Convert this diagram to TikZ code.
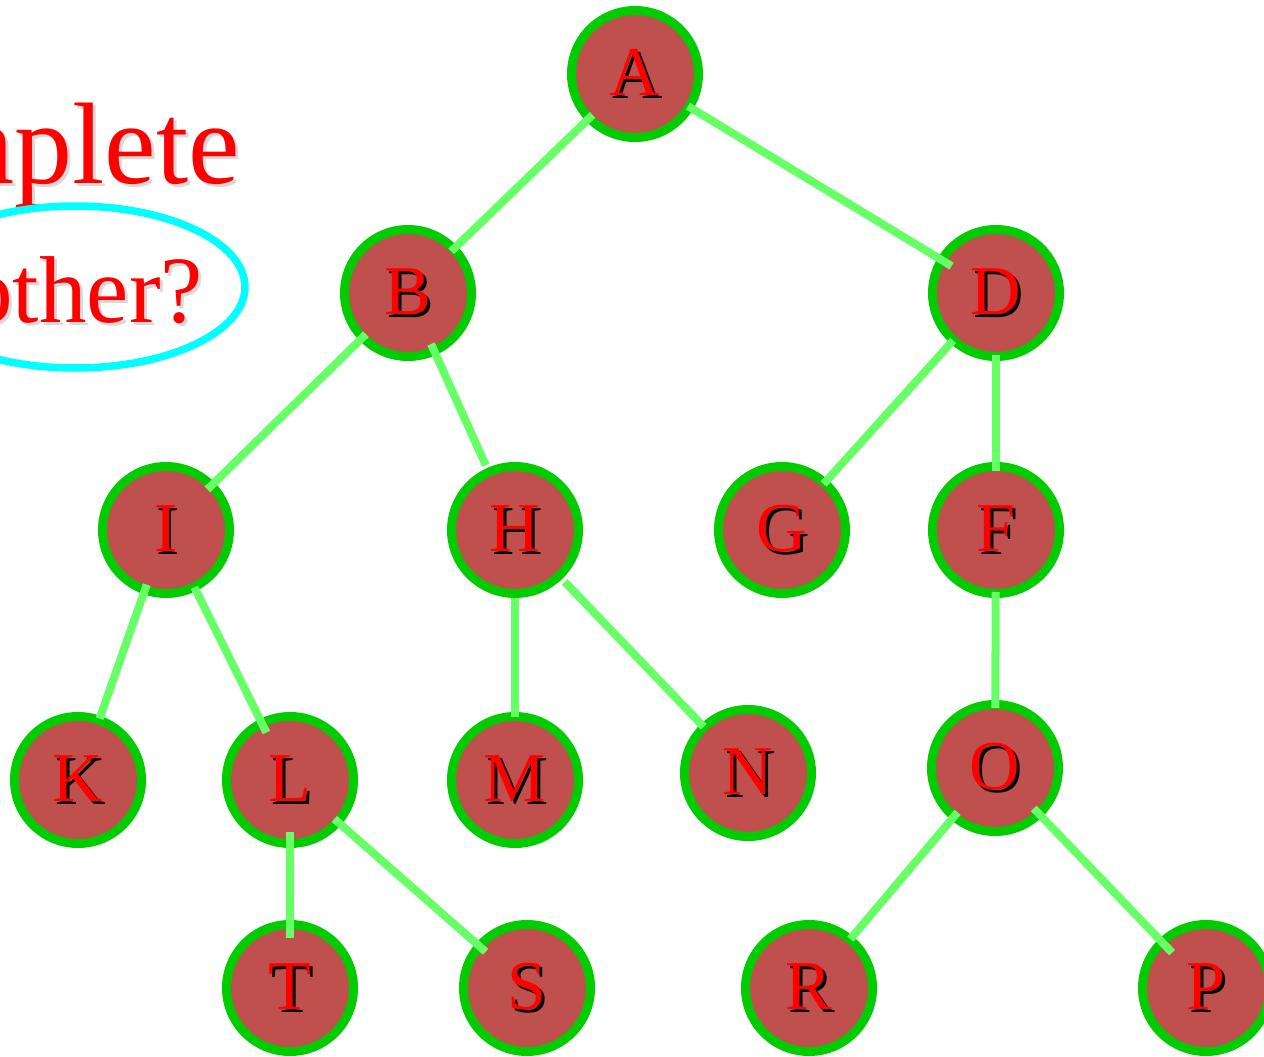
\documentclass[tikz,border=0pt]{standalone}
\usepackage{fontspec}
\setmainfont{Liberation Serif}
\definecolor{nodefill}{HTML}{C0504D}
\definecolor{nodeborder}{HTML}{00CC00}
\definecolor{edgegreen}{HTML}{66FF66}
\definecolor{textred}{HTML}{FF0000}
\definecolor{ringcyan}{HTML}{00FFFF}
\definecolor{ttlshade}{HTML}{D9D9D9}
\newcommand\shd[1]{\rlap{\kern2.5pt\raisebox{-2.5pt}{\color{black}#1}}#1}
\newcommand\ttlshd[1]{\rlap{\kern3pt\raisebox{-3pt}{\color{ttlshade}#1}}#1}
\begin{document}
\begin{tikzpicture}[x=1pt,y=-1pt,
  tnode/.style={circle, draw=nodeborder, fill=nodefill, line width=9pt,
    minimum size=127pt, inner sep=0pt, text=textred,
    font=\fontsize{70}{70}\selectfont},
  edge/.style={draw=edgegreen, line width=8pt, line cap=butt},
  ttl/.style={inner sep=0pt, anchor=base east, text=textred}]
\useasboundingbox (0,0) rectangle (1264,1057);
\clip (0,0) rectangle (1264,1057);

% title fragments (cut by the left edge)
\node[ttl, font=\fontsize{116}{116}\selectfont] (t1) at (240,183) {\ttlshd{complete}};
\node[ttl, font=\fontsize{95}{95}\selectfont] (t2) at (203,322) {\ttlshd{another?}};
\draw[ringcyan, line width=7.5pt] (75,287) ellipse [x radius=170, y radius=81];

% nodes
\node[tnode] (A) at (635,74) {\shd{A}};
\node[tnode] (B) at (408,293) {\shd{B}};
\node[tnode] (D) at (996,293) {\shd{D}};
\node[tnode] (I) at (166,530) {\shd{I}};
\node[tnode] (H) at (515,530) {\shd{H}};
\node[tnode] (G) at (782,530) {\shd{G}};
\node[tnode] (F) at (996,530) {\shd{F}};
\node[tnode] (K) at (78,780) {\shd{K}};
\node[tnode] (L) at (290,780) {\shd{L}};
\node[tnode] (M) at (515,780) {\shd{M}};
\node[tnode] (N) at (748,773) {\shd{N}};
\node[tnode] (O) at (995,768) {\shd{O}};
\node[tnode] (T) at (290,988) {\shd{T}};
\node[tnode] (S) at (527,988) {\shd{S}};
\node[tnode] (R) at (809,988) {\shd{R}};
\node[tnode] (P) at (1206,988) {\shd{P}};

% edges
\draw[edge, shorten <=59pt, shorten >=60pt] (A.center) -- (B.center);
\draw[edge, shorten <=62pt, shorten >=52pt] (A.center) -- (D.center);
\draw[edge, shorten <=59pt, shorten >=58pt] (B.center) -- (I.center);
\draw[edge, shorten <=56pt, shorten >=71pt] (B.center) -- (H.center);
\draw[edge, shorten <=64pt, shorten >=62pt] (D.center) -- (G.center);
\draw[edge, shorten <=62pt, shorten >=59pt] (D.center) -- (F.center);
\draw[edge, shorten <=58pt, shorten >=65pt] (I.center) -- (K.center);
\draw[edge, shorten <=64pt, shorten >=53pt] (I.center) -- (L.center);
\draw[edge, shorten <=68pt, shorten >=63pt] (H.center) -- (M.center);
\draw[edge, shorten <=72pt, shorten >=64pt] (H.center) -- (N.center);
\draw[edge, shorten <=62pt, shorten >=60pt] (F.center) -- (O.center);
\draw[edge, shorten <=52pt, shorten >=50pt] (L.center) -- (T.center);
\draw[edge, shorten <=59pt, shorten >=55pt] (L.center) -- (S.center);
\draw[edge, shorten <=58pt, shorten >=64pt] (O.center) -- (R.center);
\draw[edge, shorten <=56pt, shorten >=49pt] (O.center) -- (P.center);
\end{tikzpicture}
\end{document}
